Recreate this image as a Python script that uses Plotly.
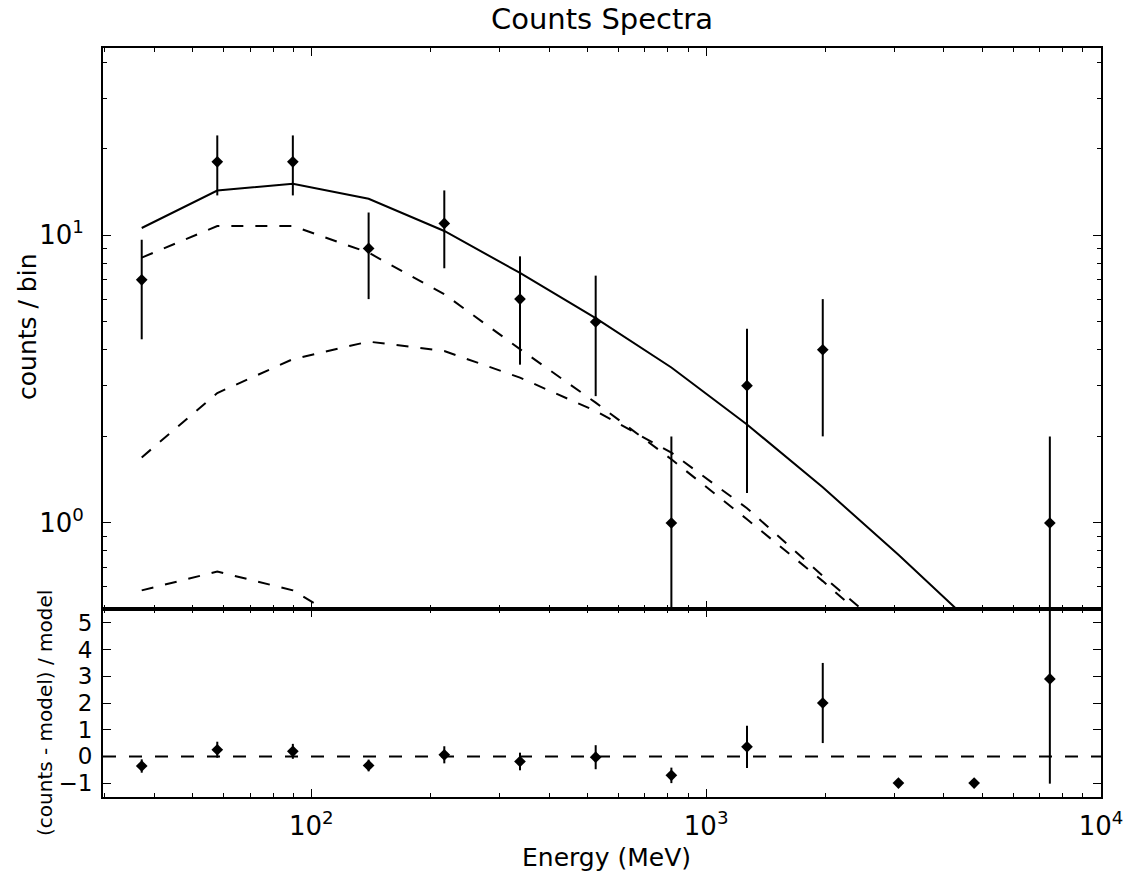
import plotly.graph_objects as go

# ---- data ----
energy = [37.2, 57.8, 89.8, 139.7, 217.2, 337.7, 525.1, 816.5, 1269, 1974, 3069, 4772, 7421]
counts = [7, 18, 18, 9, 11, 6, 5, 1, 3, 4, 0, 0, 1]
count_err = [2.65, 4.24, 4.24, 3.0, 3.32, 2.45, 2.24, 1.0, 1.73, 2.0, 0.0, 0.0, 1.0]

model_total = [10.6, 14.3, 15.1, 13.4, 10.35, 7.4, 5.15, 3.47, 2.2, 1.33, 0.776, 0.44, 0.255]
comp_a = [8.36, 10.77, 10.77, 8.7, 6.24, 4.02, 2.62, 1.665, 1.03, 0.628, 0.37, 0.21, 0.12]
comp_b = [1.69, 2.83, 3.71, 4.27, 3.96, 3.2, 2.45, 1.756, 1.125, 0.654, 0.39, 0.23, 0.135]
comp_c = [0.583, 0.678, 0.583, 0.406, 0.25, 0.15, 0.09, 0.05, 0.03, 0.02, 0.012, 0.007, 0.004]

residual = [-0.36, 0.25, 0.19, -0.34, 0.06, -0.19, -0.03, -0.71, 0.36, 2.0, -1.0, -1.0, 2.9]
residual_err = [0.25, 0.30, 0.28, 0.22, 0.32, 0.33, 0.45, 0.29, 0.79, 1.5, 0.0, 0.0, 3.92]

x_tick_vals = [100, 1000, 10000]
x_tick_text = ["10<sup>2</sup>", "10<sup>3</sup>", "10<sup>4</sup>"]
y_top_tick_vals = [1, 10]
y_top_tick_text = ["10<sup>0</sup>", "10<sup>1</sup>"]
y_res_tick_vals = [-1, 0, 1, 2, 3, 4, 5]
y_res_tick_text = ["\u22121", "0", "1", "2", "3", "4", "5"]

title_text = "Counts Spectra"
x_title = "Energy (MeV)"
y_top_title = "counts / bin"
y_res_title = "(counts - model) / model"

# ---- figure ----
FONT = "DejaVu Sans"
BLACK = "black"

y_top_pts = [c if c > 0 else None for c in counts]
err_minus = [min(e, 0.999 * c) if c > 0 else 0 for e, c in zip(count_err, counts)]

fig = go.Figure()

for vals, dash in [(model_total, "solid"), (comp_a, "12px,12px"),
                   (comp_b, "12px,12px"), (comp_c, "12px,12px")]:
    fig.add_trace(go.Scatter(x=energy, y=vals, mode="lines",
                             line=dict(color=BLACK, width=2, dash=dash),
                             xaxis="x", yaxis="y", hoverinfo="skip"))

fig.add_trace(go.Scatter(
    x=energy, y=y_top_pts, mode="markers",
    marker=dict(symbol="diamond", size=9, color=BLACK),
    error_y=dict(type="data", symmetric=False, array=count_err, arrayminus=err_minus,
                 thickness=2, width=0, color=BLACK),
    xaxis="x", yaxis="y"))

fig.add_trace(go.Scatter(
    x=energy, y=residual, mode="markers",
    marker=dict(symbol="diamond", size=9, color=BLACK),
    error_y=dict(type="data", array=residual_err, thickness=2, width=0, color=BLACK),
    xaxis="x2", yaxis="y2"))

fig.add_shape(type="line", xref="x2 domain", yref="y2", x0=0, x1=1, y0=0, y1=0,
              line=dict(color=BLACK, width=2, dash="13px,13px"), layer="below")

log_minor_x = [m * 10 ** d for d in (1, 2, 3) for m in range(2, 10) if 30 <= m * 10 ** d < 10000]
log_minor_y = [m * 10 ** d for d in (-1, 0, 1) for m in range(2, 10) if 0.5 <= m * 10 ** d < 45]

axis_common = dict(showline=True, linewidth=2, linecolor=BLACK, mirror="allticks",
                   ticks="inside", ticklen=8, tickwidth=1.2, tickcolor=BLACK,
                   showgrid=False, zeroline=False, automargin=False)

split = 188 / 749

fig.update_layout(
    width=1125, height=877,
    margin=dict(l=103, r=24, t=48, b=80),
    paper_bgcolor="white", plot_bgcolor="white",
    showlegend=False,
    font=dict(family=FONT, color=BLACK),
    title=dict(text=title_text, x=602 / 1125, xanchor="center", y=1 - 19 / 877,
               yanchor="middle", font=dict(size=29, family=FONT, color=BLACK)),
    xaxis=dict(type="log", range=[1.4725, 4.0], anchor="y", showticklabels=False,
               tickvals=x_tick_vals,
               minor=dict(tickvals=log_minor_x, ticks="inside", ticklen=4, tickwidth=1,
                          tickcolor=BLACK, showgrid=False),
               **axis_common),
    yaxis=dict(type="log", range=[-0.299, 1.651], domain=[split, 1], anchor="x",
               tickvals=y_top_tick_vals, ticktext=y_top_tick_text,
               tickfont=dict(size=26, family=FONT, color=BLACK), ticklabelstandoff=12,
               minor=dict(tickvals=log_minor_y, ticks="inside", ticklen=4, tickwidth=1,
                          tickcolor=BLACK, showgrid=False),
               **axis_common),
    xaxis2=dict(type="log", range=[1.4725, 4.0], anchor="y2", matches="x",
                tickvals=x_tick_vals, ticktext=x_tick_text,
                tickfont=dict(size=26, family=FONT, color=BLACK), ticklabelstandoff=5,
                minor=dict(tickvals=log_minor_x, ticks="inside", ticklen=4, tickwidth=1,
                           tickcolor=BLACK, showgrid=False),
                **axis_common),
    yaxis2=dict(range=[-1.52, 5.52], domain=[0, split], anchor="x2",
                tickvals=y_res_tick_vals, ticktext=y_res_tick_text,
                tickfont=dict(size=23, family=FONT, color=BLACK), ticklabelstandoff=4,
                **axis_common),
)

fig.add_annotation(text=y_top_title, xref="paper", yref="paper",
                   x=(27 - 103) / 998, y=(797 - 327) / 749, textangle=-90,
                   showarrow=False, xanchor="center", yanchor="middle",
                   font=dict(size=25, family=FONT, color=BLACK))
fig.add_annotation(text=y_res_title, xref="paper", yref="paper",
                   x=(45 - 103) / 998, y=(797 - 713) / 749, textangle=-90,
                   showarrow=False, xanchor="center", yanchor="middle",
                   font=dict(size=20, family=FONT, color=BLACK))
fig.add_annotation(text=x_title, xref="paper", yref="paper",
                   x=(606 - 103) / 998, y=(797 - 857) / 749,
                   showarrow=False, xanchor="center", yanchor="middle",
                   font=dict(size=25, family=FONT, color=BLACK))

fig.write_html("out.html")
